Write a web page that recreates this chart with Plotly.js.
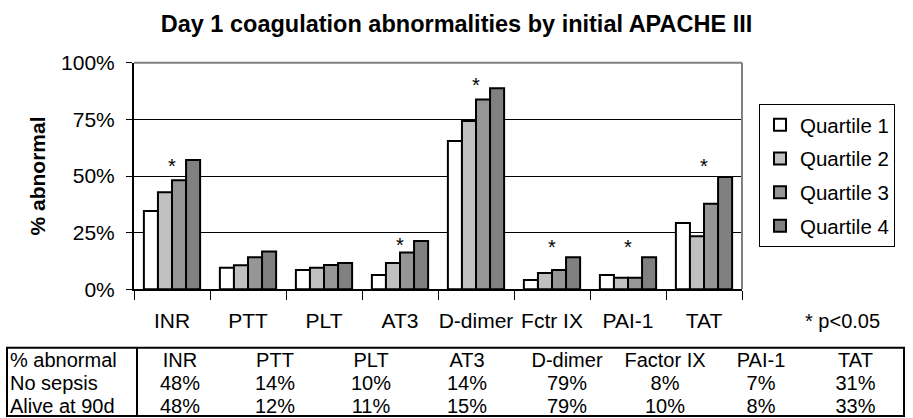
<!DOCTYPE html>
<html>
<head>
<meta charset="utf-8">
<script src="https://cdn.plot.ly/plotly-3.0.1.min.js"></script>
<style>
    body { margin: 0; background: #fff; }
    #grafikoa { width: 913px; height: 418px; }
</style>
</head>
<body>
<div id="grafikoa"></div>
<script>

// Chart categories (x axis)
let categories = ["INR", "PTT", "PLT", "AT3", "D-dimer", "Fctr IX", "PAI-1", "TAT"]

// % abnormal by initial APACHE III quartile
let quartile1 = [34.5, 9.5, 8.5, 6.3, 65.5, 4.1, 6.3, 29.3]
let quartile2 = [42.8, 10.6, 9.5, 11.6, 74.3, 7.2, 5.1, 23.4]
let quartile3 = [48.1, 14.1, 10.7, 16.2, 83.8, 8.5, 5.1, 37.7]
let quartile4 = [57.1, 16.7, 11.6, 21.3, 88.7, 14.1, 14.1, 49.6]

let seriesNames = ["Quartile 1", "Quartile 2", "Quartile 3", "Quartile 4"]

// significance markers (*) and where they sit
let starCategories = ["INR", "AT3", "D-dimer", "Fctr IX", "PAI-1", "TAT"]
let starLevels = [54.5, 19.5, 90, 18.8, 18.8, 54.2]

// table under the chart
let tableHeader = ["% abnormal", "INR", "PTT", "PLT", "AT3", "D-dimer", "Factor IX", "PAI-1", "TAT"]
let rowLabels = ["No sepsis", "Alive at 90d"]
let noSepsis = [48, 14, 10, 14, 79, 8, 7, 31]
let aliveAt90d = [48, 12, 11, 15, 79, 10, 8, 33]


let grafikoa = document.getElementById("grafikoa")

const W = 913, H = 418
// pixel -> paper coordinates
function px(x){ return x / W }
function py(y){ return 1 - y / H }

const FONT = "Arial, 'Liberation Sans', sans-serif"
const fills = ["#ffffff", "#c0c0c0", "#969696", "#808080"]

// spaces -> no-break spaces, so the table does not try to wrap the cells
function nb(s){ return String(s).replace(/ /g, "\u00a0") }

window.onload = function(){
    plot()
}

function plot(){
    let values = [quartile1, quartile2, quartile3, quartile4]
    let data = []

    for (let i = 0; i < values.length; i++){
        data.push({
            type: "bar",
            name: seriesNames[i],
            x: categories,
            y: values[i],
            legendgroup: "q" + i,
            marker: {color: fills[i], line: {color: "#000", width: 2}},
            hoverinfo: "skip"
        })
    }

    // table: first column = row labels, then one column per test
    let cellCols = [rowLabels.map(nb)]
    for (let j = 0; j < noSepsis.length; j++){
        cellCols.push([noSepsis[j] + "%", aliveAt90d[j] + "%"])
    }
    let aligns = ["left"].concat(noSepsis.map(function(){ return "center" }))

    data.push({
        type: "table",
        domain: {x: [px(2), px(904)], y: [py(418), py(344.3)]},
        columnwidth: [135, 86, 104, 88, 104, 96, 100, 92, 97],
        header: {
            values: tableHeader.map(nb),
            align: aligns,
            height: 22.6,
            fill: {color: "rgba(0,0,0,0)"},
            line: {color: "rgba(0,0,0,0)", width: 0},
            font: {family: FONT, size: 20, color: "#000"}
        },
        cells: {
            values: cellCols,
            align: aligns,
            height: 22.6,
            fill: {color: "rgba(0,0,0,0)"},
            line: {color: "rgba(0,0,0,0)", width: 0},
            font: {family: FONT, size: 20, color: "#000"}
        }
    })

    let annotations = []
    for (let k = 0; k < starCategories.length; k++){
        annotations.push({
            x: starCategories[k], y: starLevels[k], xref: "x", yref: "y",
            text: "*", showarrow: false,
            font: {family: FONT, size: 20, color: "#000"}
        })
    }
    annotations.push({
        x: px(842.5), y: py(321), xref: "paper", yref: "paper",
        xanchor: "center", yanchor: "middle",
        text: "* p&lt;0.05", showarrow: false,
        font: {family: FONT, size: 20, color: "#000"}
    })

    let layout = {
        width: W,
        height: H,
        margin: {l: 0, r: 0, t: 0, b: 0},
        paper_bgcolor: "#fff",
        plot_bgcolor: "#fff",
        font: {family: FONT, color: "#000"},
        title: {
            text: "Day 1 coagulation abnormalities by initial APACHE III",
            x: 0.5, xref: "paper",
            y: py(24), yref: "container", yanchor: "middle",
            font: {family: FONT, size: 23.5, weight: "bold", color: "#000"}
        },
        barmode: "group",
        bargap: 0.26,
        bargroupgap: 0,
        xaxis: {
            domain: [px(134), px(742)],
            type: "category",
            tickson: "boundaries",
            tickangle: 0,
            ticks: "outside",
            ticklen: 9,
            tickwidth: 1,
            tickcolor: "#000",
            showline: true,
            linecolor: "#000",
            linewidth: 2,
            showgrid: false,
            ticklabelstandoff: 11,
            tickfont: {family: FONT, size: 21, color: "#000"},
            fixedrange: true
        },
        yaxis: {
            domain: [py(289.3), py(62.7)],
            range: [0, 100],
            dtick: 25,
            ticksuffix: "%",
            ticks: "outside",
            ticklen: 6,
            tickwidth: 1,
            tickcolor: "#000",
            showline: true,
            linecolor: "#000",
            linewidth: 2,
            showgrid: true,
            gridcolor: "#000",
            gridwidth: 1,
            zeroline: false,
            ticklabelstandoff: 7,
            tickfont: {family: FONT, size: 21, color: "#000"},
            title: {
                text: "% abnormal",
                standoff: 10,
                font: {family: FONT, size: 21, weight: "bold", color: "#000"}
            },
            fixedrange: true
        },
        legend: {
            x: px(759), y: py(104),
            xanchor: "left", yanchor: "top",
            bgcolor: "#fff",
            bordercolor: "#000",
            borderwidth: 1,
            traceorder: "grouped",
            tracegroupgap: 4,
            itemwidth: 30,
            font: {family: FONT, size: 20.5, color: "#000"}
        },
        annotations: annotations,
        shapes: [
            // grey frame on top and right of the plot area
            {type: "line", xref: "x domain", yref: "y domain", x0: 0, x1: 1, y0: 1, y1: 1,
             line: {color: "#808080", width: 2}, layer: "above"},
            {type: "line", xref: "x domain", yref: "y domain", x0: 1, x1: 1, y0: 0, y1: 1,
             line: {color: "#808080", width: 2}, layer: "above"},
            // table frame
            {type: "rect", xref: "paper", yref: "paper", x0: px(7), x1: px(904), y0: py(416), y1: py(347.7),
             line: {color: "#000", width: 2}, layer: "above"},
            {type: "line", xref: "paper", yref: "paper", x0: px(137), x1: px(137), y0: py(416), y1: py(347.7),
             line: {color: "#000", width: 2}, layer: "above"}
        ]
    }

    Plotly.newPlot(grafikoa, data, layout, {displayModeBar: false, staticPlot: true})
}

</script>
</body>
</html>
